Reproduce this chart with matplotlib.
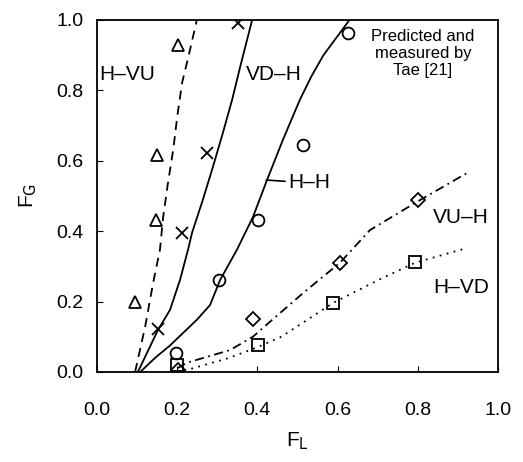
import matplotlib
matplotlib.use("Agg")
import matplotlib.pyplot as plt

plt.rcParams['font.family'] = ['Liberation Sans', 'DejaVu Sans']
plt.rcParams['mathtext.default'] = 'regular'

# Predicted curves
hvu_x = [0.095, 0.12, 0.14, 0.157, 0.165, 0.177, 0.19, 0.2, 0.212, 0.232, 0.249]
hvu_y = [0.0, 0.128, 0.253, 0.347, 0.44, 0.537, 0.63, 0.724, 0.82, 0.915, 1.0]

vdh_x = [0.102, 0.152, 0.182, 0.207, 0.227, 0.237, 0.264, 0.289, 0.314, 0.337, 0.357, 0.387]
vdh_y = [0.0, 0.119, 0.176, 0.261, 0.347, 0.395, 0.489, 0.582, 0.679, 0.773, 0.866, 1.0]

hh_x = [0.108, 0.145, 0.182, 0.249, 0.282, 0.307, 0.349, 0.389, 0.424, 0.464, 0.506, 0.535, 0.565, 0.63]
hh_y = [0.0, 0.04, 0.075, 0.148, 0.19, 0.261, 0.347, 0.44, 0.545, 0.66, 0.773, 0.84, 0.9, 1.0]

vuh_x = [0.2, 0.224, 0.332, 0.389, 0.431, 0.514, 0.606, 0.681, 0.798, 0.923]
vuh_y = [0.01, 0.026, 0.062, 0.1, 0.142, 0.224, 0.31, 0.403, 0.483, 0.565]

hvd_x = [0.2, 0.232, 0.33, 0.4, 0.46, 0.589, 0.7, 0.793, 0.923]
hvd_y = [0.0, 0.008, 0.04, 0.07, 0.1, 0.196, 0.26, 0.31, 0.352]

# Measured points
tri_x = [0.202, 0.150, 0.147, 0.095]
tri_y = [0.929, 0.616, 0.432, 0.199]

cross_x = [0.352, 0.274, 0.212, 0.152]
cross_y = [0.991, 0.622, 0.395, 0.122]

circ_x = [0.626, 0.514, 0.401, 0.304, 0.197]
circ_y = [0.963, 0.645, 0.432, 0.261, 0.054]

dia_x = [0.800, 0.606, 0.389, 0.202]
dia_y = [0.489, 0.310, 0.150, 0.005]

sq_x = [0.793, 0.589, 0.401, 0.199]
sq_y = [0.312, 0.196, 0.077, 0.020]

fig = plt.figure(figsize=(5.23, 4.62), dpi=100)
ax = fig.add_axes([0.1855, 0.195, 0.7665, 0.762])

lw = 1.3
ax.plot(hvu_x, hvu_y, color='black', lw=lw, linestyle=(0, (5, 3.5)))
ax.plot(vdh_x, vdh_y, color='black', lw=lw)
ax.plot(hh_x, hh_y, color='black', lw=lw)
ax.plot(vuh_x, vuh_y, color='black', lw=lw, linestyle=(0, (5, 2.5, 1, 2.5)))
ax.plot(hvd_x, hvd_y, color='black', lw=lw, linestyle=(0, (1, 3)))

mk = dict(linestyle='none', color='black', mfc='none', mew=1.3)
ax.plot(tri_x, tri_y, marker='^', ms=8.5, **mk)
ax.plot(cross_x, cross_y, marker='x', ms=9, **mk)
ax.plot(circ_x, circ_y, marker='o', ms=8.5, **mk)
ax.plot(dia_x, dia_y, marker='D', ms=7, **mk)
ax.plot(sq_x, sq_y, marker='s', ms=8, **mk)

fs = 15
ax.text(0.005, 0.844, 'H\u2013VU', fontsize=fs, ha='left', va='center')
ax.text(0.372, 0.844, 'VD\u2013H', fontsize=fs, ha='left', va='center')
ax.annotate('H\u2013H', xy=(0.422, 0.545), xytext=(0.476, 0.537), fontsize=fs,
            ha='left', va='center',
            arrowprops=dict(arrowstyle='-', color='black', lw=1.2, shrinkA=0, shrinkB=0))
ax.text(0.838, 0.44, 'VU\u2013H', fontsize=fs, ha='left', va='center')
ax.text(0.838, 0.24, 'H\u2013VD', fontsize=fs, ha='left', va='center')
ax.text(0.813, 0.905, 'Predicted and\nmeasured by\nTae [21]', fontsize=12,
        ha='center', va='center', linespacing=1.15)

ax.set_xlim(0, 1)
ax.set_ylim(0, 1)
ax.set_xticks([0.0, 0.2, 0.4, 0.6, 0.8, 1.0])
ax.set_yticks([0.0, 0.2, 0.4, 0.6, 0.8, 1.0])
ax.set_xticklabels(['0.0', '0.2', '0.4', '0.6', '0.8', '1.0'])
ax.set_yticklabels(['0.0', '0.2', '0.4', '0.6', '0.8', '1.0'])
ax.tick_params(axis='x', direction='in', length=4, width=0.8, labelsize=14, pad=22)
ax.tick_params(axis='y', direction='in', length=4, width=0.8, labelsize=14, pad=10)
for s in ax.spines.values():
    s.set_linewidth(1.3)

ax.set_xlabel('F$_\\mathrm{L}$', fontsize=15, labelpad=8)
ax.set_ylabel('F$_\\mathrm{G}$', fontsize=15, labelpad=12)

fig.savefig('out.png', dpi=100)
